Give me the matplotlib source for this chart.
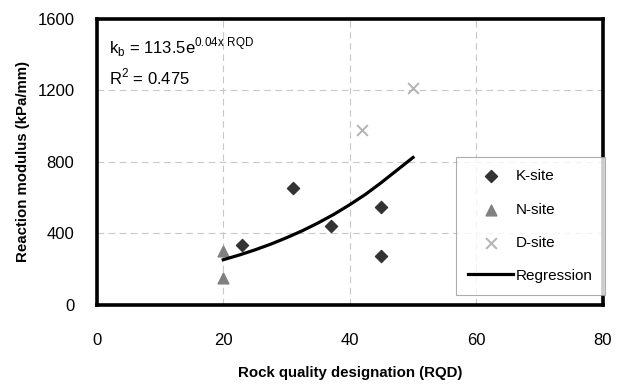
import matplotlib.pyplot as plt

plt.rcParams['font.family'] = ['Liberation Sans', 'DejaVu Sans']
plt.rcParams['mathtext.fontset'] = 'custom'
plt.rcParams['mathtext.rm'] = 'Liberation Sans'

# data
k_rqd = [23, 31, 37, 45, 45]
k_mod = [335, 655, 440, 548, 275]
n_rqd = [20, 20]
n_mod = [303, 150]
d_rqd = [42, 50]
d_mod = [980, 1215]
reg_rqd = [20, 22.5, 25, 27.5, 30, 32.5, 35, 37.5, 40, 42.5, 45, 47.5, 50]
reg_mod = [253, 279, 308, 340, 376, 415, 459, 507, 561, 619, 685, 755, 825]

xticks = [0, 20, 40, 60, 80]
yticks = [0, 400, 800, 1200, 1600]

fig = plt.figure(figsize=(6.24, 3.87), dpi=100)
ax = fig.add_axes([0.155, 0.212, 0.811, 0.739])

ax.scatter(k_rqd, k_mod, marker='D', s=38, color='#333333', label='K-site', zorder=3)
ax.scatter(n_rqd, n_mod, marker='^', s=60, color='#808080', label='N-site', zorder=3)
ax.scatter(d_rqd, d_mod, marker='x', s=60, color='#b3b3b3', linewidths=1.4, label='D-site', zorder=3)
ax.plot(reg_rqd, reg_mod, color='black', lw=2.3, label='Regression', zorder=4)

ax.set_xlim(0, 80)
ax.set_ylim(0, 1600)
ax.set_xticks(xticks)
ax.set_yticks(yticks)
ax.tick_params(length=0, labelsize=12)
ax.tick_params(axis='x', pad=20)
ax.tick_params(axis='y', pad=16)
ax.grid(True, ls=(0, (6, 4)), color='#c8c8c8', lw=0.8)
for s in ax.spines.values():
    s.set_linewidth(2.6)
    s.set_color('black')

ax.set_xlabel('Rock quality designation (RQD)', fontsize=10.8, fontweight='bold', labelpad=13)
ax.set_ylabel('Reaction modulus (kPa/mm)', fontsize=10.8, fontweight='bold', labelpad=5)

ax.text(2, 1440, r'k$_{\rm b}$ = 113.5e$^{\rm 0.04x\ RQD}$', fontsize=12, va='center')
ax.text(2, 1275, r'R$^{2}$ = 0.475', fontsize=12, va='center')

leg = ax.legend(loc='lower right', bbox_to_anchor=(1.004, 0.035), borderaxespad=0,
                fontsize=11, frameon=True, fancybox=False, edgecolor='#999999',
                borderpad=0.8, labelspacing=1.25, handlelength=2.9, handletextpad=0.2)
leg.get_frame().set_linewidth(0.8)

fig.savefig('out.png', dpi=100)
